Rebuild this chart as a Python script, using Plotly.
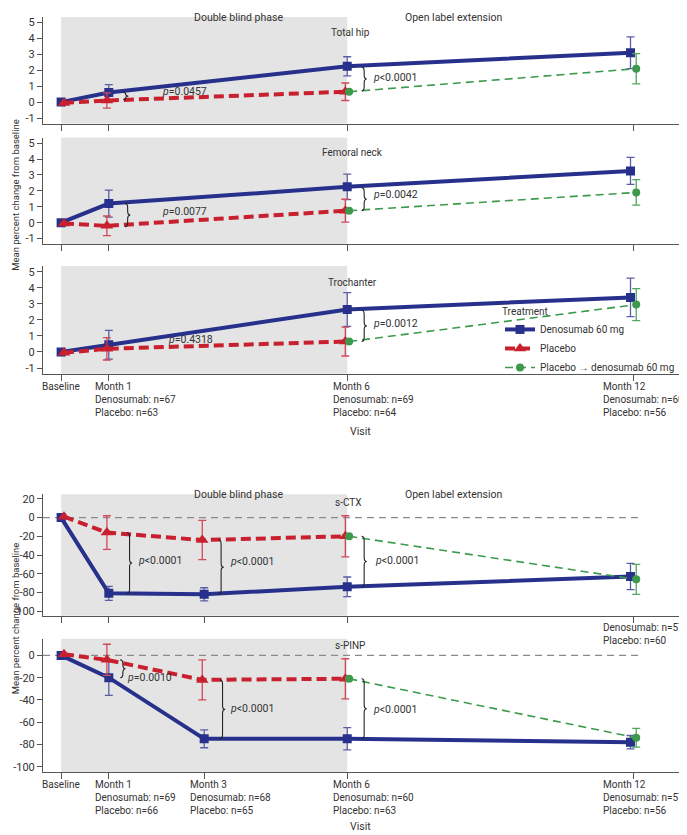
import plotly.graph_objects as go

# ---- data -------------------------------------------------------------
months_bmd = [0, 1, 6, 12]
months_marker = [0, 1, 3, 6, 12]

hip_den = [0, 0.6, 2.25, 3.1]
hip_den_err = [None, 0.5, 0.6, 1.0]
hip_pbo = [-0.05, 0.1, 0.65]
hip_pbo_err = [None, 0.48, 0.55]
hip_switch = [0.65, 2.1]
hip_switch_err = [None, 0.95]

neck_den = [0, 1.2, 2.25, 3.25]
neck_den_err = [None, 0.85, 0.8, 0.85]
neck_pbo = [-0.05, -0.2, 0.75]
neck_pbo_err = [None, 0.62, 0.72]
neck_switch = [0.75, 1.9]
neck_switch_err = [None, 0.8]

troch_den = [0, 0.45, 2.65, 3.4]
troch_den_err = [None, 0.9, 1.05, 1.2]
troch_pbo = [-0.05, 0.2, 0.65]
troch_pbo_err = [None, 0.7, 0.9]
troch_switch = [0.65, 2.95]
troch_switch_err = [None, 1.0]

ctx_den = [0, -81, -82, -74, -63]
ctx_den_err = [None, 7.5, 7, 10.5, 14]
ctx_pbo = [1, -16, -24, -20]
ctx_pbo_err = [None, 18, 21, 22]
ctx_switch = [-20, -66]
ctx_switch_err = [None, 16]

pinp_den = [0, -20, -75, -75, -78]
pinp_den_err = [None, 16, 8, 10, 6]
pinp_pbo = [1, -4, -22, -21]
pinp_pbo_err = [None, 14, 18, 18]
pinp_switch = [-21, -74]
pinp_switch_err = [None, 8.5]

bmd_n_den = [67, 69, 60]
bmd_n_pbo = [63, 64, 56]
marker_n_den = [69, 68, 60, 57]
marker_n_pbo = [66, 65, 63, 56]
ctx_m12_n = (57, 60)

series_names = ["Denosumab 60 mg", "Placebo", "Placebo \u2192 denosumab 60 mg"]

# ---- styling ----------------------------------------------------------
FONT = "Roboto, sans-serif"
TXT = "#333333"
BLUE = "#27318b"
RED = "#c8202e"
GREEN = "#3d9a4c"
PAGE_W, PAGE_H = 687, 835
OFF = 8  # the html body keeps its default 8px margin
W, H = PAGE_W - OFF, PAGE_H - OFF
X0, X1 = 43, 682
XRANGE = [-0.38, 13.02]


def px(x):
    return (x - OFF) / W


def py(y):
    return 1 - (y - OFF) / H


panels = [
    dict(label="Total hip", months=months_bmd, den=hip_den, den_err=hip_den_err,
         pbo=hip_pbo, pbo_err=hip_pbo_err, sw=hip_switch, sw_err=hip_switch_err,
         top=16, bottom=123, yrange=[-1.35, 5.35], ticks=[-1, 0, 1, 2, 3, 4, 5],
         label_xy=(350, 32),
         braces=[(1.3, 0.6, 0.15), (6.3, 2.2, 0.7)],
         pvals=[(2.08, 0.68, "=0.0457"), (6.5, 1.55, "<0.0001")]),
    dict(label="Femoral neck", months=months_bmd, den=neck_den, den_err=neck_den_err,
         pbo=neck_pbo, pbo_err=neck_pbo_err, sw=neck_switch, sw_err=neck_switch_err,
         top=137, bottom=244, yrange=[-1.35, 5.35], ticks=[-1, 0, 1, 2, 3, 4, 5],
         label_xy=(352, 152),
         braces=[(1.34, 1.2, -0.25), (6.3, 2.2, 0.75)],
         pvals=[(2.08, 0.7, "=0.0077"), (6.5, 1.75, "=0.0042")]),
    dict(label="Trochanter", months=months_bmd, den=troch_den, den_err=troch_den_err,
         pbo=troch_pbo, pbo_err=troch_pbo_err, sw=troch_switch, sw_err=troch_switch_err,
         top=266, bottom=374, yrange=[-1.35, 5.35], ticks=[-1, 0, 1, 2, 3, 4, 5],
         label_xy=(352, 282),
         braces=[(6.3, 2.6, 0.65)],
         pvals=[(2.2, 0.75, "=0.4318"), (6.5, 1.75, "=0.0012")]),
    dict(label="s-CTX", months=months_marker, den=ctx_den, den_err=ctx_den_err,
         pbo=ctx_pbo, pbo_err=ctx_pbo_err, sw=ctx_switch, sw_err=ctx_switch_err,
         top=495, bottom=617, yrange=[-105, 25], ticks=[-100, -80, -60, -40, -20, 0, 20],
         label_xy=(348, 503),
         braces=[(1.38, -16, -81), (3.3, -24, -82), (6.3, -20, -74)],
         pvals=[(1.58, -46, "<0.0001"), (3.5, -47, "<0.0001"), (6.53, -46, "<0.0001")]),
    dict(label="s-PINP", months=months_marker, den=pinp_den, den_err=pinp_den_err,
         pbo=pinp_pbo, pbo_err=pinp_pbo_err, sw=pinp_switch, sw_err=pinp_switch_err,
         top=640, bottom=774, yrange=[-105, 15], ticks=[-100, -80, -60, -40, -20, 0],
         label_xy=(350, 647),
         braces=[(1.24, -4, -20), (3.33, -22, -75), (6.3, -21, -75)],
         pvals=[(1.34, -20, "=0.0010"), (3.5, -48, "<0.0001"), (6.5, -49, "<0.0001")]),
]

fig = go.Figure()
layout = dict(
    width=W, height=H, margin=dict(l=0, r=0, t=0, b=0),
    paper_bgcolor="white", plot_bgcolor="white",
    font=dict(family=FONT, size=10, color=TXT),
    shapes=[], annotations=[],
    legend=dict(
        x=px(500), y=py(302), xanchor="left", yanchor="top",
        bgcolor="rgba(0,0,0,0)", font=dict(size=10, color=TXT),
        title=dict(text="Treatment", font=dict(size=10, color=TXT)),
        tracegroupgap=0, itemwidth=30,
    ),
)


def brace(xa, ya, x, yt, yb, px_per_unit):
    w = 0.11
    r = min(4 / px_per_unit, abs(yt - yb) / 4)
    ym = (yt + yb) / 2
    xm = x + w / 2
    p = (f"M {x},{yt} Q {xm},{yt} {xm},{yt - r} L {xm},{ym + r} "
         f"Q {xm},{ym} {x + w},{ym} Q {xm},{ym} {xm},{ym - r} "
         f"L {xm},{yb + r} Q {xm},{yb} {x},{yb}")
    return dict(type="path", path=p, xref=xa, yref=ya,
                line=dict(color="#222222", width=1.1))


for i, p in enumerate(panels, start=1):
    sfx = "" if i == 1 else str(i)
    xa, ya = f"x{sfx}", f"y{sfx}"
    show = i == 3
    m = p["months"]
    # denosumab
    fig.add_trace(go.Scatter(
        x=[v - 0.06 if v == 12 else v for v in m], y=p["den"], xaxis=xa, yaxis=ya,
        mode="lines+markers", name=series_names[0], legendgroup="den", showlegend=show,
        line=dict(color=BLUE, width=4),
        marker=dict(symbol="square", size=9, color=BLUE),
        error_y=dict(type="data", array=p["den_err"], color="#5a5ea8",
                     thickness=1.3, width=4),
    ))
    # placebo
    mp = m[:len(p["pbo"])]
    fig.add_trace(go.Scatter(
        x=[v + 0.06 if v == 0 else v - 0.04 for v in mp], y=p["pbo"], xaxis=xa, yaxis=ya,
        mode="lines+markers", name=series_names[1], legendgroup="pbo", showlegend=show,
        line=dict(color=RED, width=4, dash="10px,5px"),
        marker=dict(symbol="triangle-up", size=11, color=RED),
        error_y=dict(type="data", array=p["pbo_err"], color="#cf4a57",
                     thickness=1.3, width=4),
    ))
    # placebo -> denosumab
    fig.add_trace(go.Scatter(
        x=[6.04, 12.06], y=p["sw"], xaxis=xa, yaxis=ya,
        mode="lines+markers", name=series_names[2], legendgroup="sw", showlegend=show,
        line=dict(color=GREEN, width=1.6, dash="8px,5px"),
        marker=dict(symbol="circle", size=8, color=GREEN),
        error_y=dict(type="data", array=p["sw_err"], color="#4fa85c",
                     thickness=1.3, width=4),
    ))

    dom_y = [py(p["bottom"]), py(p["top"])]
    layout[f"xaxis{sfx}"] = dict(
        domain=[px(X0), px(X1)], anchor=ya, range=XRANGE,
        tickvals=m, ticktext=[""] * len(m), ticks="outside", ticklen=6,
        tickcolor="#555555", showline=True, linecolor="#555555", linewidth=1,
        showgrid=False, zeroline=False, fixedrange=True,
    )
    layout[f"yaxis{sfx}"] = dict(
        domain=dom_y, anchor=xa, range=p["yrange"],
        tickvals=p["ticks"], ticktext=[str(t) for t in p["ticks"]],
        ticks="outside", ticklen=5, tickcolor="#555555",
        tickfont=dict(size=11, color=TXT),
        showline=True, linecolor="#555555", linewidth=1,
        showgrid=False, zeroline=False, fixedrange=True,
    )

    # double blind shading
    layout["shapes"].append(dict(
        type="rect", xref=xa, yref=f"{ya} domain", x0=0, x1=6, y0=0, y1=1,
        fillcolor="#e4e4e4", line=dict(width=0), layer="below"))
    if i >= 4:
        layout["shapes"].append(dict(
            type="line", xref=xa, yref=ya, x0=XRANGE[0], x1=12.2, y0=0, y1=0,
            line=dict(color="#8a8a8a", width=1.2, dash="7px,5px"), layer="below"))

    ppu = (p["bottom"] - p["top"]) / (p["yrange"][1] - p["yrange"][0])
    for bx, yt, yb in p["braces"]:
        layout["shapes"].append(brace(xa, ya, bx, yt, yb, ppu))
    for tx, ty, t in p["pvals"]:
        layout["annotations"].append(dict(
            x=tx, y=ty, xref=xa, yref=ya, text=f"<i>p</i>{t}", showarrow=False,
            xanchor="left", yanchor="middle", font=dict(size=10.5, color=TXT)))

    lx, ly = p["label_xy"]
    layout["annotations"].append(dict(
        x=px(lx), y=py(ly), xref="paper", yref="paper", text=p["label"],
        showarrow=False, xanchor="center", yanchor="middle",
        font=dict(size=10, color=TXT)))


def tick_labels(xa, y_px, months, n_den, n_pbo):
    out = [dict(x=0, y=py(y_px), xref=xa, yref="paper", text="Baseline",
                showarrow=False, xanchor="center", yanchor="top",
                font=dict(size=10, color=TXT))]
    for mth, d, pb in zip(months[1:], n_den, n_pbo):
        txt = f"Month {mth}<br>Denosumab: n={d}<br>Placebo: n={pb}"
        if mth == months[-1]:
            # last label kept inside the page
            out.append(dict(x=px(686), y=py(y_px), xref="paper", yref="paper",
                            text=txt, showarrow=False, xanchor="right",
                            yanchor="top", align="left",
                            font=dict(size=10, color=TXT)))
        else:
            out.append(dict(x=mth, y=py(y_px), xref=xa, yref="paper", xshift=-16,
                            text=txt, showarrow=False, xanchor="left",
                            yanchor="top", align="left",
                            font=dict(size=10, color=TXT)))
    return out


layout["annotations"] += tick_labels("x3", 379, months_bmd, bmd_n_den, bmd_n_pbo)
layout["annotations"] += tick_labels("x5", 779, months_marker, marker_n_den, marker_n_pbo)
layout["annotations"].append(dict(
    x=px(686), y=py(621), xref="paper", yref="paper",
    text=f"Denosumab: n={ctx_m12_n[0]}<br>Placebo: n={ctx_m12_n[1]}",
    showarrow=False, xanchor="right", yanchor="top", align="left",
    font=dict(size=10, color=TXT)))

for top_px, visit_px, title_px in [(8, 432, 195), (487, 828, 620)]:
    layout["annotations"] += [
        dict(x=px(192), y=py(top_px), xref="paper", yref="paper",
             text="Double blind phase", showarrow=False, yanchor="top",
             font=dict(size=10.5, color=TXT)),
        dict(x=px(505), y=py(top_px), xref="paper", yref="paper",
             text="Open label extension", showarrow=False, yanchor="top",
             font=dict(size=10.5, color=TXT)),
        dict(x=px(360), y=py(visit_px), xref="paper", yref="paper",
             text="Visit", showarrow=False, yanchor="middle",
             font=dict(size=10.5, color=TXT)),
        dict(x=0, y=py(title_px), xref="paper", yref="paper",
             text="Mean percent change from baseline", textangle=-90,
             showarrow=False, xanchor="left", yanchor="middle",
             font=dict(size=9.5, color=TXT)),
    ]

fig.update_layout(**layout)
fig.write_html("out.html")
